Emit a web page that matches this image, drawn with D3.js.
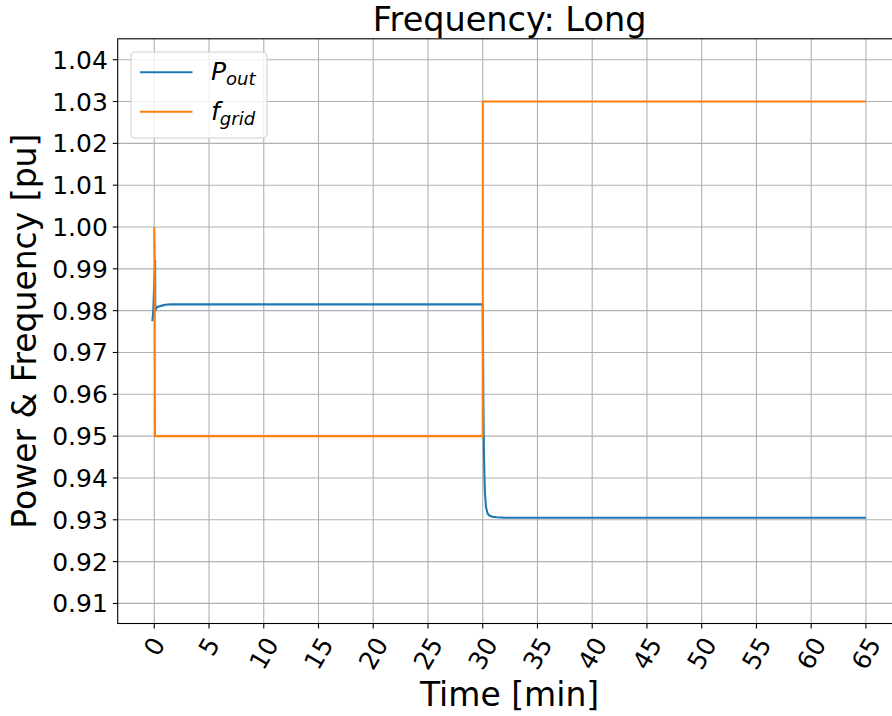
<!DOCTYPE html>
<html>
<head>
<meta charset="utf-8">
<script src="https://cdn.jsdelivr.net/npm/d3@7"></script>
<style>
  body { margin: 0; background: #fff; }
  text { font-family: "DejaVu Sans", sans-serif; fill: #000; }
</style>
</head>
<body>
<div id="chart"></div>
<script>
// time in minutes
var poutTime = [-0.18, -0.1, 0.08, 0.09, 0.1, 0.15, 0.25, 0.4, 0.7, 1.0, 1.5, 2.5, 30.0, 30.03, 30.06, 30.1, 30.15, 30.2, 30.3, 30.45, 30.6, 30.9, 31.3, 32.0, 65.0];
var poutValue = [0.9775, 0.9795, 0.9920, 0.9800, 0.9800, 0.9804, 0.9808, 0.9810, 0.9812, 0.9814, 0.9815, 0.9815, 0.9815, 0.9700, 0.9580, 0.9480, 0.9410, 0.9365, 0.9330, 0.9315, 0.9310, 0.9307, 0.9306, 0.9305, 0.9305];

var fgridTime = [0.0, 0.02, 0.03, 0.05, 0.06, 30.0, 30.01, 65.0];
var fgridValue = [1.000, 0.992, 0.996, 0.960, 0.950, 0.950, 1.030, 1.030];

var xTicks = [0, 5, 10, 15, 20, 25, 30, 35, 40, 45, 50, 55, 60, 65];
var yTicks = [0.91, 0.92, 0.93, 0.94, 0.95, 0.96, 0.97, 0.98, 0.99, 1.00, 1.01, 1.02, 1.03, 1.04];

var drawChart = function () {
  var W = 892, H = 716;
  var mLeft = 117.7, mTop = 38.8, mBottom = 623.5, mRight = 901.5;

  var svg = d3.select("#chart").append("svg")
    .attr("width", W)
    .attr("height", H);

  var x = d3.scaleLinear().domain([-3.34, 68.25]).range([mLeft, mRight]);
  var y = d3.scaleLinear().domain([0.9052, 1.0450]).range([mBottom, mTop]);

  // grid
  svg.append("g").selectAll("line").data(xTicks).join("line")
    .attr("x1", d => x(d)).attr("x2", d => x(d))
    .attr("y1", mTop).attr("y2", mBottom)
    .attr("stroke", "#b0b0b0").attr("stroke-width", 1.1);
  svg.append("g").selectAll("line").data(yTicks).join("line")
    .attr("x1", mLeft).attr("x2", mRight)
    .attr("y1", d => y(d)).attr("y2", d => y(d))
    .attr("stroke", "#b0b0b0").attr("stroke-width", 1.1);

  // clip for data lines
  svg.append("clipPath").attr("id", "clip")
    .append("rect").attr("x", mLeft).attr("y", mTop)
    .attr("width", mRight - mLeft).attr("height", mBottom - mTop);

  var line = d3.line()
    .x(d => x(d[0]))
    .y(d => y(d[1]));

  svg.append("path")
    .datum(d3.zip(poutTime, poutValue))
    .attr("clip-path", "url(#clip)")
    .attr("fill", "none")
    .attr("stroke", "#1f77b4")
    .attr("stroke-width", 2.1)
    .attr("stroke-linejoin", "round")
    .attr("d", line);

  svg.append("path")
    .datum(d3.zip(fgridTime, fgridValue))
    .attr("clip-path", "url(#clip)")
    .attr("fill", "none")
    .attr("stroke", "#ff7f0e")
    .attr("stroke-width", 2.1)
    .attr("stroke-linejoin", "round")
    .attr("d", line);

  // spines
  svg.append("rect")
    .attr("x", mLeft).attr("y", mTop)
    .attr("width", mRight - mLeft).attr("height", mBottom - mTop)
    .attr("fill", "none").attr("stroke", "#000").attr("stroke-width", 1.1);

  // y axis ticks
  var yAxis = svg.append("g");
  yAxis.selectAll("line").data(yTicks).join("line")
    .attr("x1", mLeft - 4.9).attr("x2", mLeft)
    .attr("y1", d => y(d)).attr("y2", d => y(d))
    .attr("stroke", "#000").attr("stroke-width", 1.1);
  yAxis.selectAll("text").data(yTicks).join("text")
    .attr("x", mLeft - 9.8)
    .attr("y", d => y(d))
    .attr("dy", "0.36em")
    .attr("text-anchor", "end")
    .style("font-size", "25px")
    .text(d => d3.format(".2f")(d));

  // x axis ticks
  var xAxis = svg.append("g");
  xAxis.selectAll("line").data(xTicks).join("line")
    .attr("x1", d => x(d)).attr("x2", d => x(d))
    .attr("y1", mBottom).attr("y2", mBottom + 4.9)
    .attr("stroke", "#000").attr("stroke-width", 1.1);
  var sin60 = Math.sin(Math.PI / 3), cos60 = 0.5;
  xAxis.selectAll("text").data(xTicks).join("text")
    .attr("text-anchor", "middle")
    .attr("dy", "0.36em")
    .style("font-size", "25px")
    .text(d => d)
    .attr("transform", function (d) {
      var len = this.getComputedTextLength();
      var ext = len * sin60 + 25 * cos60;
      return "translate(" + x(d) + "," + (mBottom + 9.8 + ext / 2) + ") rotate(-60)";
    });

  // title
  svg.append("text")
    .attr("x", (mLeft + mRight) / 2)
    .attr("y", 31)
    .attr("text-anchor", "middle")
    .style("font-size", "33.5px")
    .text("Frequency: Long");

  // axis labels
  svg.append("text")
    .attr("x", (mLeft + mRight) / 2)
    .attr("y", 705.5)
    .attr("text-anchor", "middle")
    .style("font-size", "33px")
    .text("Time [min]");

  svg.append("text")
    .attr("transform", "translate(36," + ((mTop + mBottom) / 2) + ") rotate(-90)")
    .attr("text-anchor", "middle")
    .style("font-size", "33px")
    .text("Power & Frequency [pu]");

  // legend
  var legend = svg.append("g");
  legend.append("rect")
    .attr("x", 131).attr("y", 52)
    .attr("width", 136).attr("height", 86)
    .attr("rx", 4).attr("ry", 4)
    .attr("fill", "rgba(255,255,255,0.8)")
    .attr("stroke", "#d0d0d0").attr("stroke-width", 1.1);

  var legendItems = [
    { color: "#1f77b4", main: "P", sub: "out", ly: 72.3 },
    { color: "#ff7f0e", main: "f", sub: "grid", ly: 111.7 }
  ];
  legendItems.forEach(function (it) {
    legend.append("line")
      .attr("x1", 140).attr("x2", 192.5)
      .attr("y1", it.ly).attr("y2", it.ly)
      .attr("stroke", it.color).attr("stroke-width", 2.1);
    var t = legend.append("text")
      .attr("x", 211)
      .attr("y", it.ly + 8)
      .style("font-size", "25px")
      .style("font-style", "italic");
    t.append("tspan").text(it.main);
    t.append("tspan")
      .attr("dy", 5)
      .style("font-size", "18px")
      .text(it.sub);
  });
};

drawChart();
</script>
</body>
</html>
